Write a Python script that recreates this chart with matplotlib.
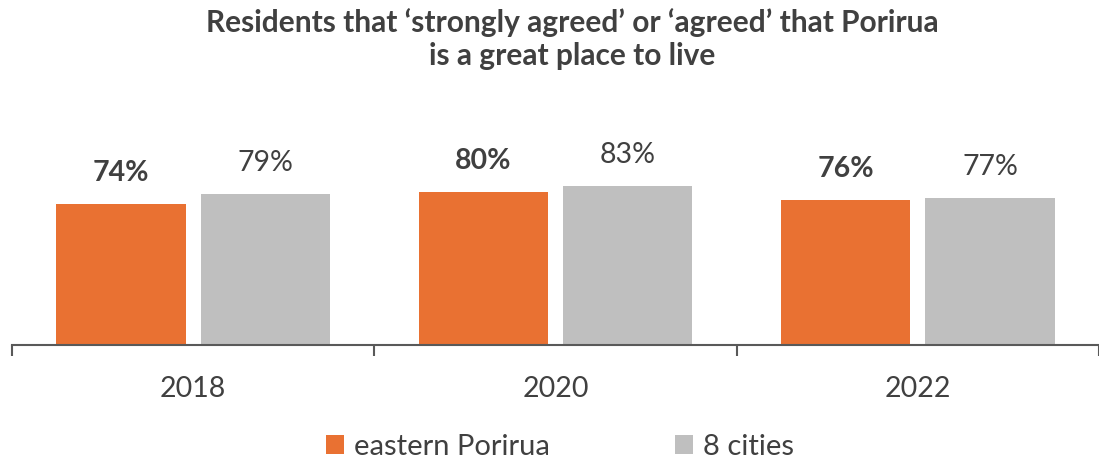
import matplotlib
matplotlib.use("Agg")
import matplotlib.pyplot as plt
from matplotlib.patches import Patch
import numpy as np

years = ["2018", "2020", "2022"]
eastern_porirua = [74, 80, 76]
eight_cities = [79, 83, 77]
series_names = ["eastern Porirua", "8 cities"]
title = "Residents that \u2018strongly agreed\u2019 or \u2018agreed\u2019 that Porirua\nis a great place to live"

ORANGE = "#E97132"
GRAY = "#BFBFBF"
TEXT = "#404040"

plt.rcParams['font.family'] = ['Lato', 'DejaVu Sans']

W, H = 1099, 465
fig = plt.figure(figsize=(W/100, H/100), dpi=100)
base = 345
ax = fig.add_axes([12/W, (H-base)/H, (1099-12)/W, 191/H])

x = np.arange(len(years))
bw = 0.357
off = 0.199
b1 = ax.bar(x - off, eastern_porirua, bw, color=ORANGE)
b2 = ax.bar(x + off, eight_cities, bw, color=GRAY)

for rect, v in zip(b1, eastern_porirua):
    ax.annotate(f"{v}%", (rect.get_x() + rect.get_width()/2, v), xytext=(0, 13),
                textcoords="offset points", ha="center", va="bottom",
                fontsize=20.5, fontweight="bold", color=TEXT, annotation_clip=False)
for rect, v in zip(b2, eight_cities):
    ax.annotate(f"{v}%", (rect.get_x() + rect.get_width()/2, v), xytext=(0, 13),
                textcoords="offset points", ha="center", va="bottom",
                fontsize=20.5, color=TEXT, annotation_clip=False)

ax.set_xlim(-0.5, 2.472)
ax.set_ylim(0, 100)
for s in ["top", "right", "left"]:
    ax.spines[s].set_visible(False)
ax.spines["bottom"].set_color("#595959")
ax.spines["bottom"].set_linewidth(1.5)
ax.set_yticks([])
ax.set_xticks([-0.5, 0.5, 1.5, 2.5])
ax.set_xticklabels([])
ax.tick_params(axis="x", direction="out", length=8, width=1.5, color="#595959")
ax.set_xticks(x, minor=True)
ax.set_xticklabels(years, minor=True, fontsize=20.5, color=TEXT)
ax.tick_params(axis="x", which="minor", length=0, pad=22)

fig.text(572/W, 1 - 39/H, title, ha="center", va="center", fontsize=21.5,
         fontweight="bold", color=TEXT, linespacing=1.18)

handles = [Patch(facecolor=ORANGE), Patch(facecolor=GRAY)]
leg = fig.legend(handles, series_names, loc="center", bbox_to_anchor=(560/W, 1 - 447/H),
                 ncol=2, frameon=False, fontsize=21, handlelength=0.6, handleheight=0.6,
                 handletextpad=0.35, columnspacing=4.3, labelcolor=TEXT)

fig.savefig("out.png", dpi=100)
